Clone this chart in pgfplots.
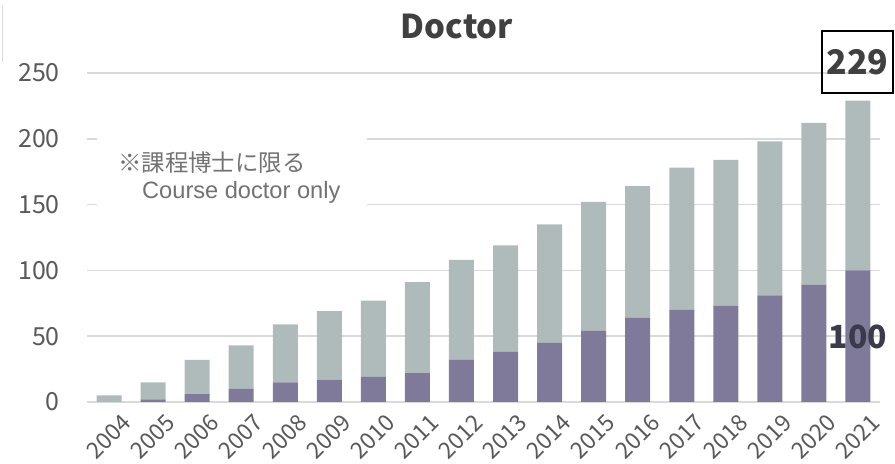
\documentclass[border=0pt]{standalone}
\usepackage{fontspec}
\setmainfont{Noto Sans CJK JP}
\newfontfamily\arial{Liberation Sans}
\usepackage{pgfplots}
\usepackage{pgfplotstable}
\pgfplotsset{compat=1.18}

\definecolor{gridc}{HTML}{D9D9D9}
\definecolor{barg}{HTML}{AFBBBB}
\definecolor{barp}{HTML}{7F7A9A}
\definecolor{txt}{HTML}{595959}
\definecolor{ttl}{HTML}{404040}
\definecolor{dark}{HTML}{3A3A4A}

% year, course doctor (purple), remainder to total (grey)
\pgfplotstableread{
x year phd rest
0 2004 0 5
1 2005 2 13
2 2006 6 26
3 2007 10 33
4 2008 15 44
5 2009 17 52
6 2010 19 58
7 2011 22 69
8 2012 32 76
9 2013 38 81
10 2014 45 90
11 2015 54 98
12 2016 64 100
13 2017 70 108
14 2018 73 111
15 2019 81 117
16 2020 89 123
17 2021 100 129
}\doctordata

\begin{document}
\begin{tikzpicture}[x=1bp,y=1bp]
\useasboundingbox (0,0) rectangle (895,464);
\draw[gridc, line width=1bp] (2,459) -- (2,402);
\begin{axis}[
  at={(87bp,62bp)}, anchor=south west,
  scale only axis,
  width=793bp, height=329bp,
  xmin=-0.5, xmax=17.5,
  ymin=0, ymax=250,
  ybar stacked,
  bar width=25bp,
  ytick={0,50,...,250},
  xtick={0,...,17},
  xticklabels from table={\doctordata}{year},
  axis x line*=bottom,
  axis y line*=left,
  y axis line style={draw=none},
  x axis line style={gridc, line width=1.5bp},
  major tick length=0pt,
  ymajorgrids,
  grid style={gridc, line width=1.5bp},
  /pgf/number format/assume math mode=true,
  yticklabel style={font=\fontsize{25}{30}\selectfont, color=txt,
    anchor=east, inner sep=0pt, xshift=-27bp},
  xticklabel style={font=\fontsize{23}{26}\selectfont, color=txt,
    rotate=45, anchor=east, inner sep=0pt, yshift=-24bp, xshift=1bp},
  clip=false,
]
\addplot[fill=barp, draw=none] table[x=x, y=phd] {\doctordata};
\addplot[fill=barg, draw=none] table[x=x, y=rest] {\doctordata};
\end{axis}
\node[font=\bfseries\fontsize{32}{36}\selectfont, color=dark] at (858,127) {100};
\node[font=\bfseries\fontsize{33}{38}\selectfont, color=ttl] at (457,438) {Doctor};
\fill[white] (97,258) rectangle (367,326);
\node[font=\fontsize{23.5}{28}\selectfont, color=txt!85, anchor=west, inner sep=0pt] at (118,301) {※課程博士に限る};
\node[font=\arial\fontsize{23.7}{28}\selectfont, color=txt!85, anchor=west, inner sep=0pt] at (142,272) {Course doctor only};
\draw[black, line width=1.5bp] (822,371) rectangle (893,433);
\node[font=\bfseries\fontsize{34}{38}\selectfont, color=ttl] at (857.5,402) {229};
\end{tikzpicture}
\end{document}
